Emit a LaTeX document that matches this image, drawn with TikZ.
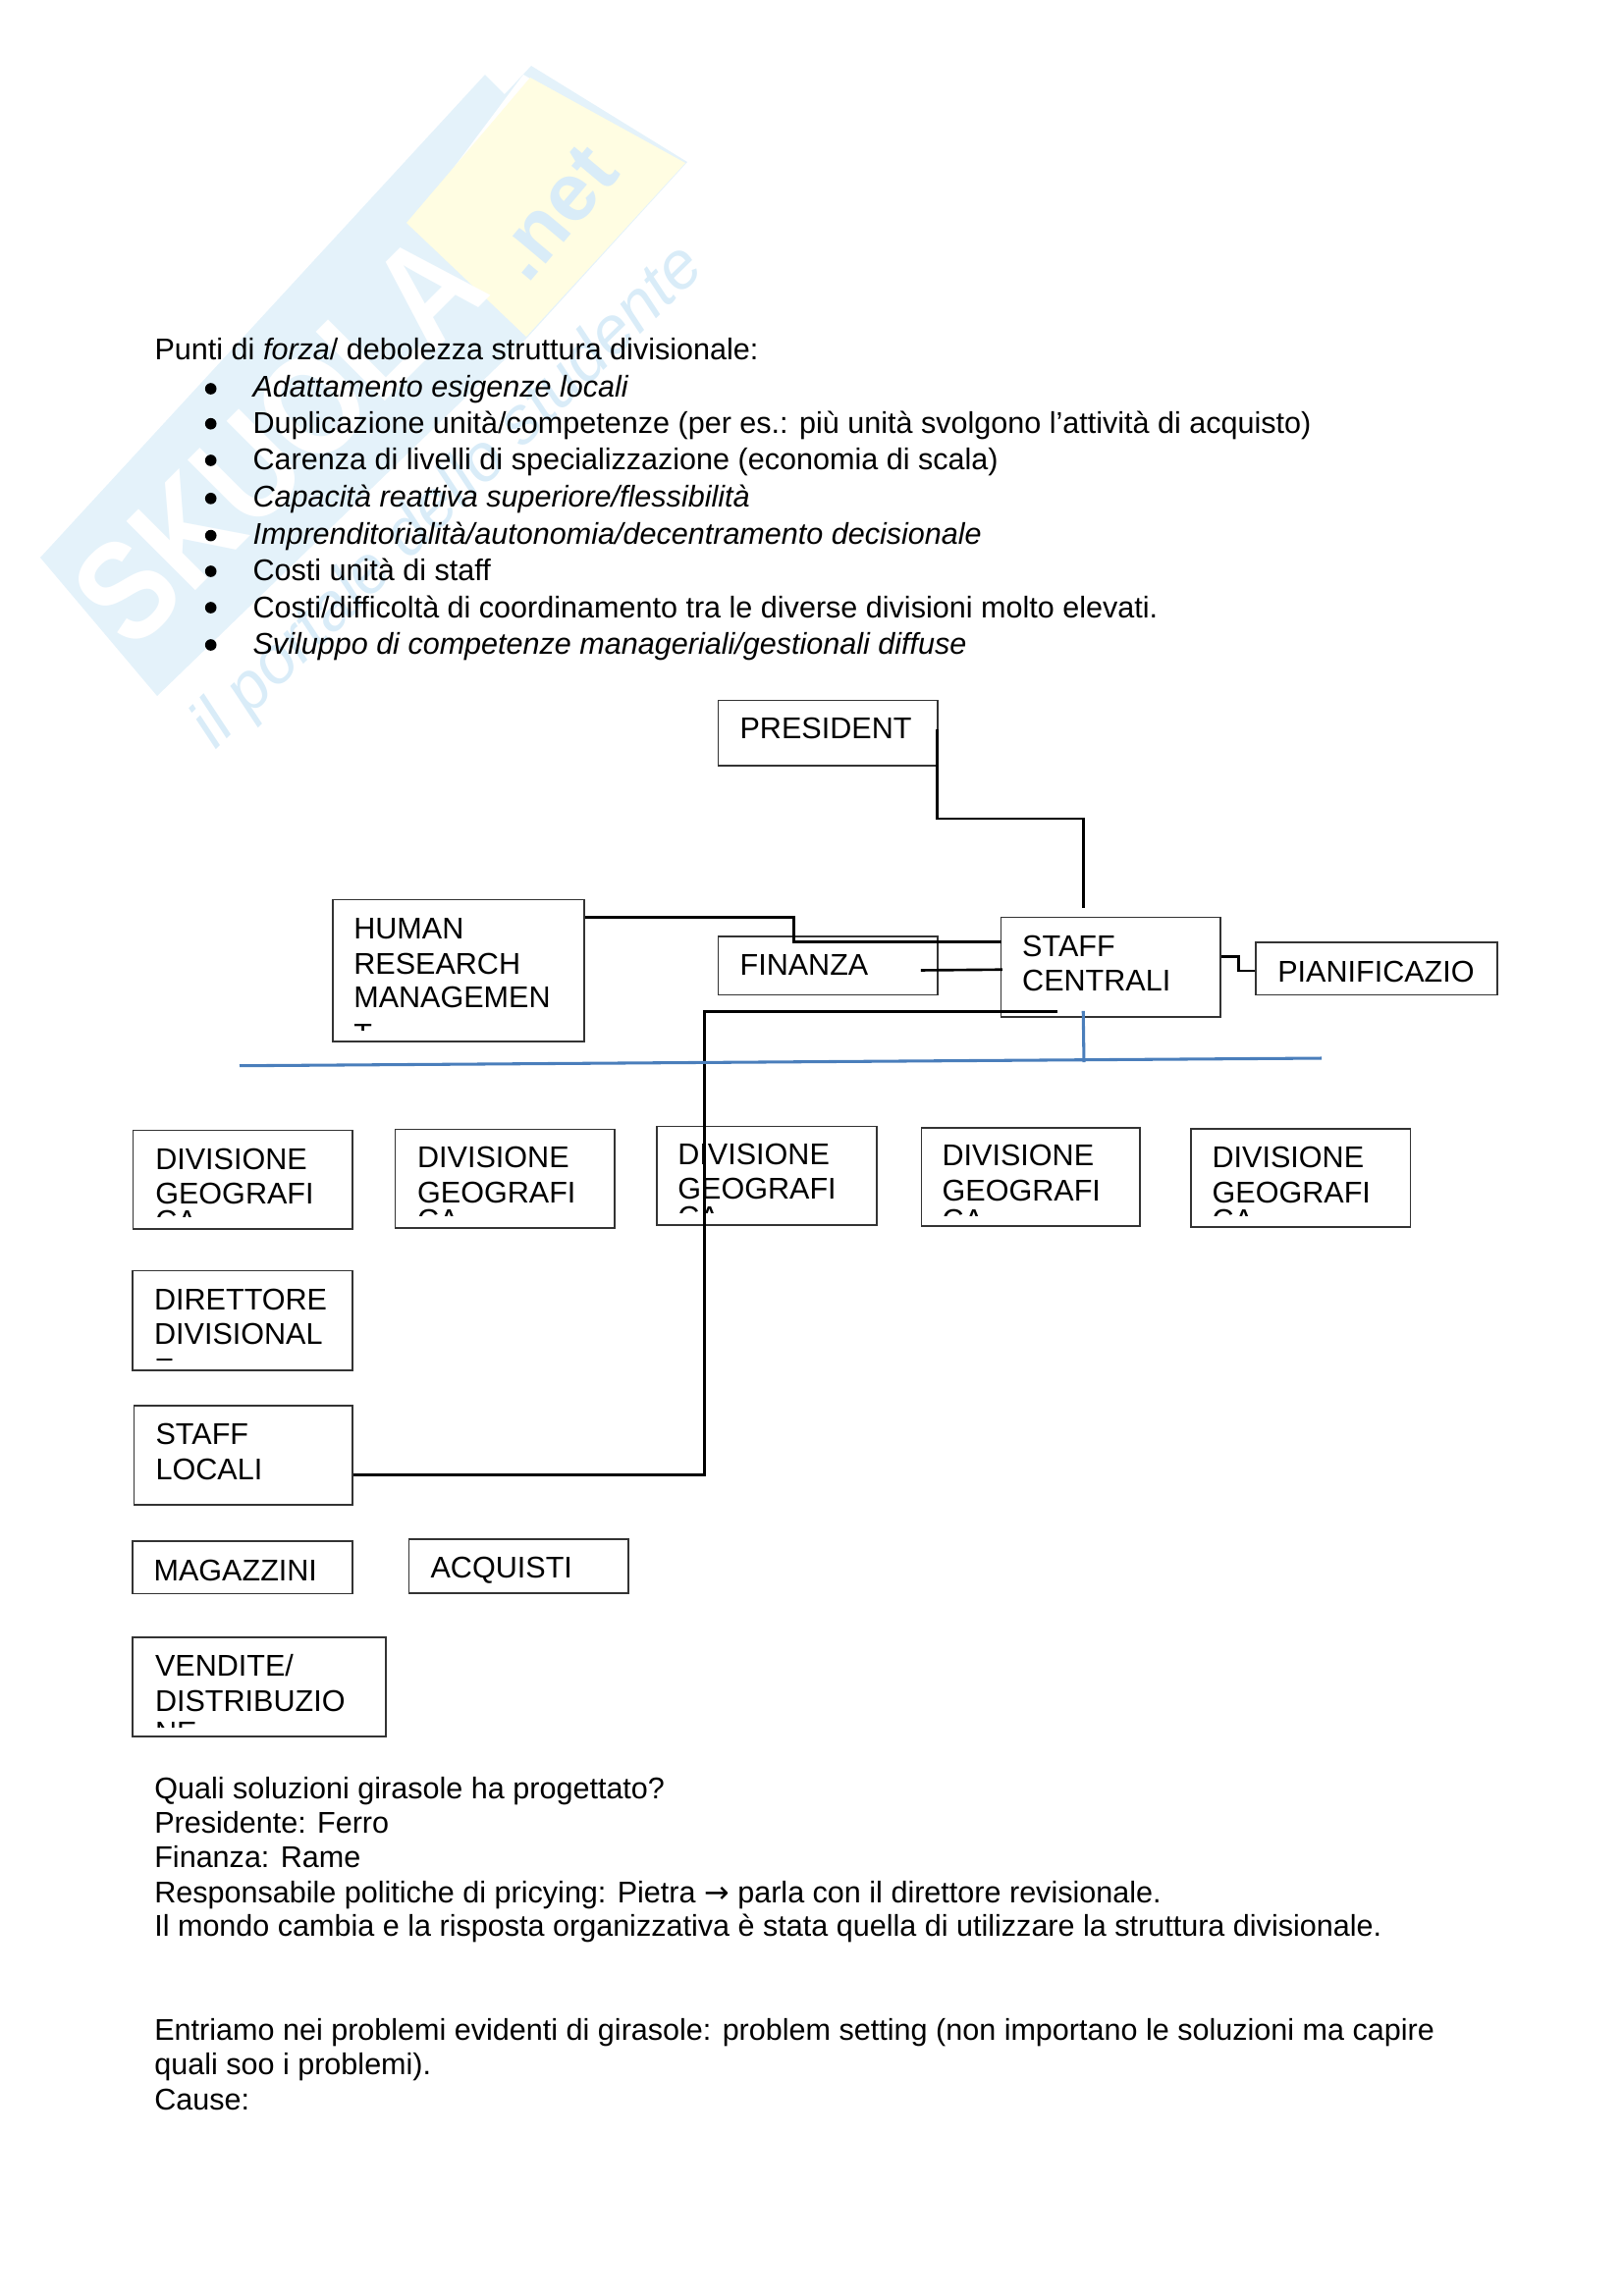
\documentclass[tikz,border=0pt]{standalone}
\usepackage{fontspec}
\setmainfont{Liberation Sans}
\newfontfamily\arrowfont{DejaVu Sans}
\usetikzlibrary{fit,calc}
\definecolor{wmblue}{HTML}{E4F2FA}
\definecolor{wmyellow}{HTML}{FFFDE2}
\definecolor{wmtext}{HTML}{D9ECF8}
\definecolor{linkblue}{HTML}{4A7EBB}
\tikzset{
  box/.style={draw=black!80,line width=0.55pt,inner sep=0pt},
  txt/.style={anchor=base west,inner sep=0pt,outer sep=0pt,xshift=-0.5pt,text=black,font=\fontsize{11}{12.5}\selectfont},
  itxt/.style={txt,font=\fontsize{11}{12.5}\selectfont\itshape},
  conn/.style={draw=black,line width=0.95pt,line join=miter},
  bluelink/.style={draw=linkblue,line width=1.1pt},
  bul/.style={circle,fill=black,inner sep=0pt,minimum size=4.2pt},
}
\newcommand{\bx}[5]{\node[box,fit={(#2,#3)(#4,#5)}] (#1) {};}
\newcommand{\lbl}[4]{\node[txt] (#1) at (#2,#3) {#4};}
\newcommand{\cliplbl}[5]{\begin{scope}\clip (#2-5,#4-40) rectangle (#2+200,#4);\node[txt] (#1) at (#2,#3) {#5};\end{scope}}
\begin{document}
\begin{tikzpicture}[x=0.36pt,y=-0.36pt]
\useasboundingbox (0,0) rectangle (1653,2339);
% watermark
\fill[wmblue] (41,568) -- (494,76) -- (514,96) -- (541,67) -- (700,165) -- (536,345) -- (160,709) -- cycle;
\fill[white] (533,76) -- (690,167) -- (533,340) -- (420,227) -- cycle;
\fill[wmyellow] (540,79) -- (698,166) -- (536,343) -- (414,227) -- cycle;
\node[rotate=45,inner sep=0pt,text=white,font=\bfseries\fontsize{52}{52}\selectfont] (wmname) at (284,447) {\scalebox{.85}[1]{SKUOLA}};
\node[rotate=50,inner sep=0pt,text=wmtext,font=\bfseries\fontsize{30}{30}\selectfont] (wmnet) at (565,217) {.net};
\node[rotate=44.4,inner sep=0pt,text=wmtext,font=\itshape\fontsize{24.5}{24.5}\selectfont] (wmslogan) at (457,507) {il portale dello studente};
% top text
\node[txt] (head) at (159,366) {Punti di \textit{forza}/ debolezza struttura divisionale:};
\node[itxt] (l1) at (259,404.5) {Adattamento esigenze locali};
\lbl{l2}{259}{441}{Duplicazione unità/competenze (per es.: più unità svolgono l’attività di acquisto)}
\lbl{l3}{259}{478.7}{Carenza di livelli di specializzazione (economia di scala)}
\node[itxt] (l4) at (259,516.5) {Capacità reattiva superiore/flessibilità};
\node[itxt] (l5) at (259,554.8) {Imprenditorialità/autonomia/decentramento decisionale};
\lbl{l6}{259}{591}{Costi unità di staff}
\lbl{l7}{259}{629}{Costi/difficoltà di coordinamento tra le diverse divisioni molto elevati.}
\node[itxt] (l8) at (259,666.8) {Sviluppo di competenze manageriali/gestionali diffuse};
\node[bul] (b1) at (214.7,396) {};
\node[bul] (b2) at (214.7,431.7) {};
\node[bul] (b3) at (214.7,469) {};
\node[bul] (b4) at (214.7,507.8) {};
\node[bul] (b5) at (214.7,545.6) {};
\node[bul] (b6) at (214.7,582) {};
\node[bul] (b7) at (214.7,619) {};
\node[bul] (b8) at (214.7,657) {};
% boxes
\bx{pres}{731.5}{713.7}{955}{780}
\bx{hr}{338.8}{916.5}{595}{1061}
\bx{fin}{731.5}{954}{955}{1013.7}
\bx{sc}{1019.7}{934.5}{1243}{1036}
\bx{pf}{1279}{960}{1525}{1013.7}
\bx{d1}{135.7}{1151.5}{359}{1252}
\bx{d2}{402.5}{1150.7}{626}{1251}
\bx{d3}{669}{1147.7}{893}{1248}
\bx{d4}{938.7}{1149}{1161}{1249}
\bx{d5}{1213}{1150}{1436.5}{1250}
\bx{dir}{134.8}{1294.4}{359}{1396}
\bx{sl}{136.6}{1431.8}{359}{1533}
\bx{mag}{134.8}{1570}{359}{1623.6}
\bx{acq}{416.5}{1568}{640}{1623}
\bx{ven}{135}{1668}{393}{1769}
% box texts
\lbl{tpres}{755}{752.7}{PRESIDENT}
\lbl{thr1}{361.7}{956.7}{HUMAN}
\lbl{thr2}{361.7}{992}{RESEARCH}
\lbl{thr3}{361.7}{1026.7}{MANAGEMEN}
\cliplbl{thr4}{361.7}{1064.5}{1049.3}{T}
\lbl{tfin}{755}{993.8}{FINANZA}
\lbl{tsc1}{1042.6}{974.7}{STAFF}
\lbl{tsc2}{1042.6}{1009.5}{CENTRALI}
\lbl{tpf}{1302.7}{1000}{PIANIFICAZIO}
\lbl{td1a}{159.7}{1191.7}{DIVISIONE}
\lbl{td1b}{159.7}{1226.5}{GEOGRAFI}
\cliplbl{td1c}{159.7}{1254.5}{1239.5}{CA}
\lbl{td2a}{426.5}{1189.8}{DIVISIONE}
\lbl{td2b}{426.5}{1225}{GEOGRAFI}
\cliplbl{td2c}{426.5}{1253.7}{1238.7}{CA}
\lbl{td3a}{691.8}{1186.7}{DIVISIONE}
\lbl{td3b}{691.8}{1221.5}{GEOGRAFI}
\cliplbl{td3c}{691.8}{1250.7}{1235.7}{CA}
\lbl{td4a}{961}{1187.8}{DIVISIONE}
\lbl{td4b}{961}{1223.4}{GEOGRAFI}
\cliplbl{td4c}{961}{1253}{1238}{CA}
\lbl{td5a}{1236}{1189.8}{DIVISIONE}
\lbl{td5b}{1236}{1225}{GEOGRAFI}
\cliplbl{td5c}{1236}{1253.7}{1238.7}{CA}
\lbl{tdir1}{158.5}{1334.7}{DIRETTORE}
\lbl{tdir2}{158.5}{1369.5}{DIVISIONAL}
\cliplbl{tdir3}{158.5}{1405}{1385}{E}
\lbl{tsl1}{160}{1471.8}{STAFF}
\lbl{tsl2}{160}{1507}{LOCALI}
\lbl{tmag}{158}{1610}{MAGAZZINI}
\lbl{tacq}{440}{1607.8}{ACQUISTI}
\lbl{tven1}{159.4}{1707.7}{VENDITE/}
\lbl{tven2}{159.4}{1743}{DISTRIBUZIO}
\cliplbl{tven3}{159.4}{1775}{1759}{NE}
% connectors
\draw[conn] ($(pres.north east)+(-1,30)$) -- ++(0,91) -| ($(sc.north west)+(84.3,-8.5)$);
\draw[conn] ($(hr.north east)+(0,18.5)$) -- ++(212.6,0) |- ($(sc.north west)+(1,25.5)$);
\draw[conn] ($(fin.east)+(-18,4.6)$) -- ($(sc.north west)+(2,54)$);
\draw[conn] ($(sl.south east)+(0,-31)$) -- ++(358,0) |- ($(sc.south west)+(58,-6)$);
\draw[conn] ($(sc.north east)+(0,40.5)$) -- ++(18,0) |- ($(pf.west)+(0,2.2)$);
\coordinate (blueL) at (244,1085.7);
\coordinate (blueR) at (1346,1078);
\coordinate (blueJ) at (1104,1082);
\draw[bluelink] (blueL) -- (blueR);
\draw[bluelink] ($(sc.south west)+(84.3,-7)$) -- (blueJ);
% bottom text
\lbl{q1}{158.7}{1832.7}{Quali soluzioni girasole ha progettato?}
\lbl{q2}{158.7}{1867.3}{Presidente: Ferro}
\lbl{q3}{158.7}{1902.3}{Finanza: Rame}
\lbl{q4}{158.7}{1938}{Responsabile politiche di pricying: Pietra {\arrowfont →} parla con il direttore revisionale.}
\lbl{q5}{158.7}{1972.7}{Il mondo cambia e la risposta organizzativa è stata quella di utilizzare la struttura divisionale.}
\lbl{q6}{158.7}{2078.3}{Entriamo nei problemi evidenti di girasole: problem setting (non importano le soluzioni ma capire}
\lbl{q7}{158.7}{2113.7}{quali soo i problemi).}
\lbl{q8}{158.7}{2149.3}{Cause:}
\end{tikzpicture}
\end{document}
